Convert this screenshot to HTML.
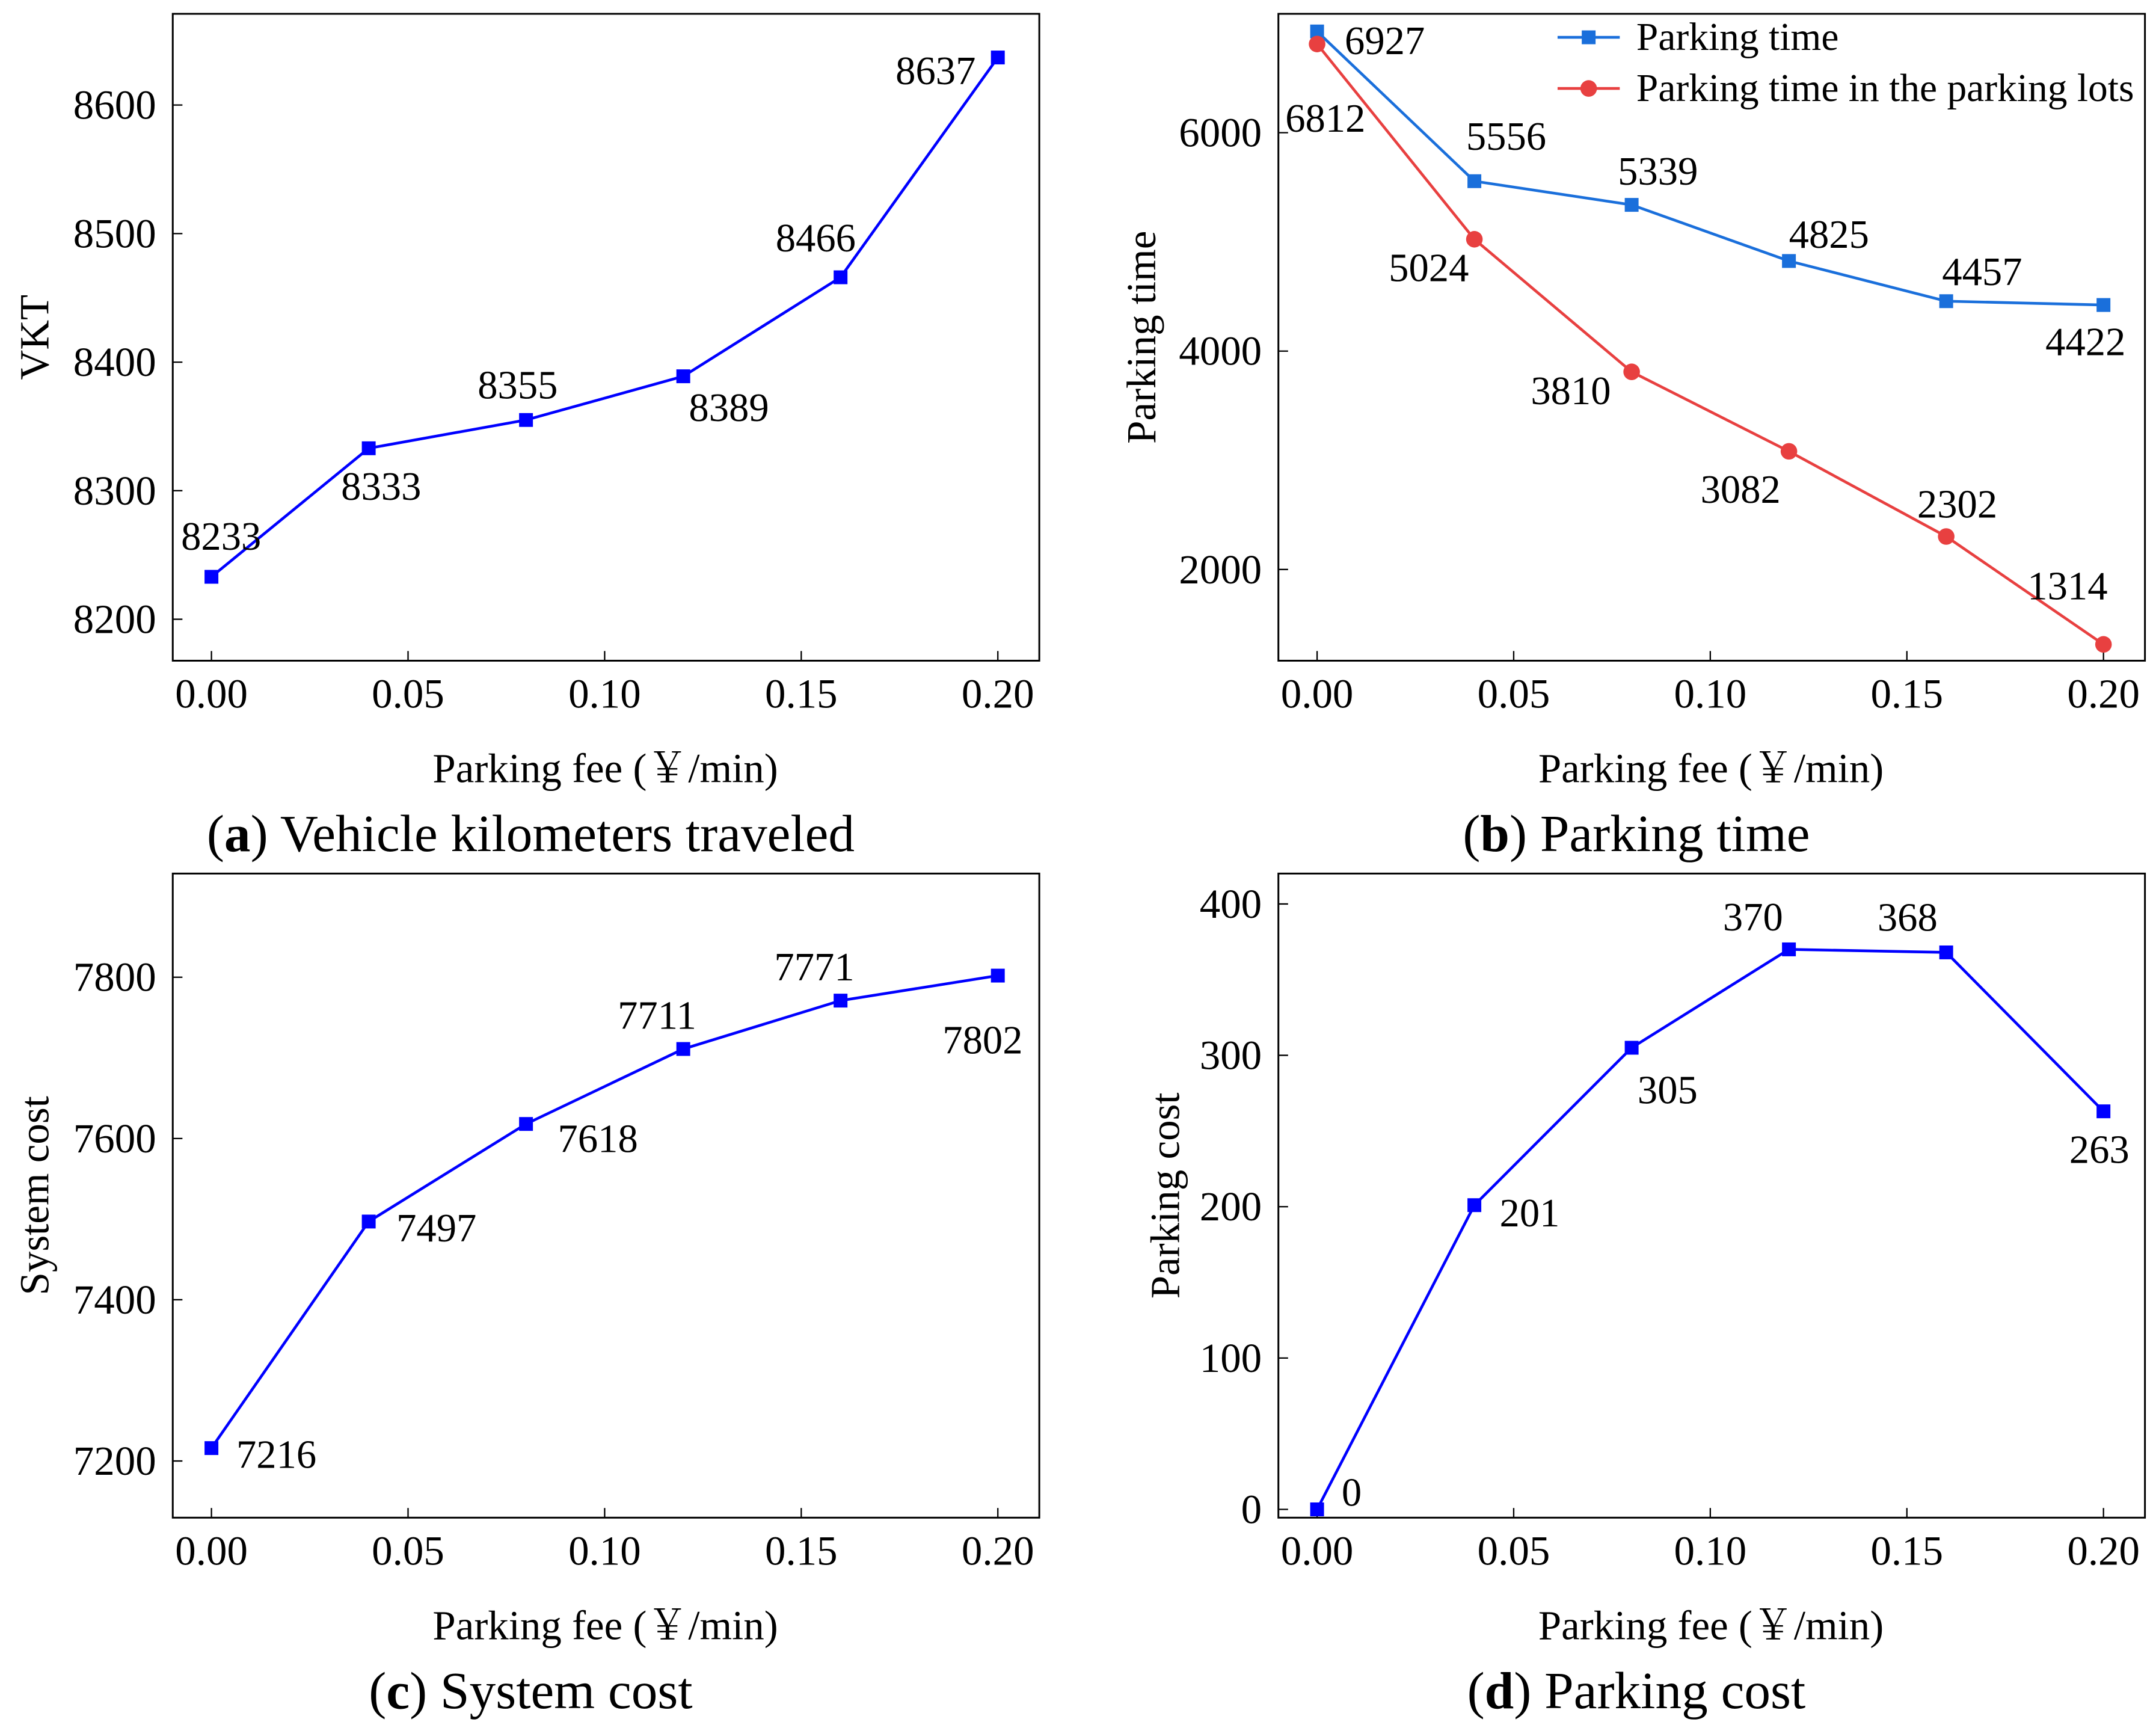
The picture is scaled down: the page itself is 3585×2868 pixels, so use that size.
<!DOCTYPE html>
<html><head><meta charset="utf-8">
<style>
html,body{margin:0;padding:0;background:#fff;}
svg{display:block;}
text{font-family:"Liberation Serif","Noto Serif CJK SC",serif;fill:#000;}
</style></head>
<body>
<svg id="fig" width="3585" height="2868" viewBox="0 0 1560 1248" xmlns="http://www.w3.org/2000/svg"></svg>
<script>
const xCategories = [0, 0.04, 0.08, 0.12, 0.16, 0.20];
const xTickLabels = ["0.00","0.05","0.10","0.15","0.20"];
const xTickValues = [0, 0.05, 0.10, 0.15, 0.20];
const vktValues = [8233, 8333, 8355, 8389, 8466, 8637];
const parkingTimeValues = [6927, 5556, 5339, 4825, 4457, 4422];
const parkingLotTimeValues = [6812, 5024, 3810, 3082, 2302, 1314];
const systemCostValues = [7216, 7497, 7618, 7711, 7771, 7802];
const parkingCostValues = [0, 201, 305, 370, 368, 263];
const vktTicks = [8200, 8300, 8400, 8500, 8600];
const parkingTimeTicks = [2000, 4000, 6000];
const systemCostTicks = [7200, 7400, 7600, 7800];
const parkingCostTicks = [0, 100, 200, 300, 400];

const svg = document.getElementById('fig');
const NS = 'http://www.w3.org/2000/svg';
function mk(tag, attrs, parent){
  const e = document.createElementNS(NS, tag);
  for (const k in attrs) e.setAttribute(k, attrs[k]);
  (parent||svg).appendChild(e);
  return e;
}
function txt(s, x, y, size, anchor, parent, name){
  const t = mk('text', {x:x, y:y, 'font-size':size, 'text-anchor':anchor||'middle', 'dominant-baseline':'central'}, parent);
  
  
  t.textContent = s;
  return t;
}

function panel(cfg){
  const g = mk('g', {});
  
  
  const L = cfg.left, R = L + 627, T = cfg.top, B = cfg.bottom;
  const x0 = L + 28, x1 = L + 597;
  const xs = v => x0 + (v - 0) / 0.2 * (x1 - x0);
  const ys = v => cfg.y0px + (v - cfg.y0) / (cfg.y1 - cfg.y0) * (cfg.y1px - cfg.y0px);
  const box = mk('rect', {x:L, y:T, width:R-L, height:B-T, fill:'none', stroke:'#000', 'stroke-width':1.3}, g);
  
  
  xTickValues.forEach((v, i) => {
    const tk = mk('line', {x1:xs(v), x2:xs(v), y1:B, y2:B-7, stroke:'#000', 'stroke-width':1}, g);
    
    
    txt(xTickLabels[i], xs(v), B + 24, 30, 'middle', g, 'x-tick-label');
  });
  cfg.yticks.forEach(v => {
    const tk = mk('line', {x1:L, x2:L+7, y1:ys(v), y2:ys(v), stroke:'#000', 'stroke-width':1}, g);
    
    
    txt(String(v), L - 12, ys(v), 30, 'end', g, 'y-tick-label');
  });
  txt('Parking fee (￥/min)', L + 313, B + 78, 30, 'middle', g, 'x-axis-title');
  const yt = txt(cfg.ylabel, 0, 0, 30, 'middle', g, 'y-axis-title');
  yt.setAttribute('transform', `translate(${cfg.ylabelX},${(T+B)/2}) rotate(-90)`);
  const cap = mk('text', {x:L + 259, y:B + 125, 'font-size':38, 'text-anchor':'middle', 'dominant-baseline':'central'}, g);
  
  
  cap.innerHTML = `(<tspan font-weight="bold">${cfg.letter}</tspan>) ${cfg.caption}`;
  cfg.series.forEach(s => {
    const pts = xCategories.map((c, i) => xs(c) + ',' + ys(s.values[i])).join(' ');
    const pl = mk('polyline', {points:pts, fill:'none', stroke:s.color, 'stroke-width':2}, g);
    
    
    xCategories.forEach((c, i) => {
      let m;
      if (s.marker === 'circle') m = mk('circle', {cx:xs(c), cy:ys(s.values[i]), r:6, fill:s.color}, g);
      else m = mk('rect', {x:xs(c)-5, y:ys(s.values[i])-5, width:10, height:10, fill:s.color}, g);
      
      
      txt(String(s.values[i]), xs(c) + s.off[i][0], ys(s.values[i]) + s.off[i][1], 29, 'middle', g, 'data-label');
    });
  });
  return {g, xs, ys};
}

panel({name:'panel-a-vkt', left:125, top:10, bottom:478, y0:8200, y1:8600, y0px:448, y1px:76,
  yticks:vktTicks, ylabel:'VKT', ylabelX:25, letter:'a', caption:'Vehicle kilometers traveled',
  series:[{name:'vkt', color:'#0000ff', marker:'square', values:vktValues,
    off:[[7,-29],[9,28],[-6,-25],[33,23],[-18,-28],[-45,10]]}]});

panel({name:'panel-b-parking-time', left:925, top:10, bottom:478, y0:2000, y1:6000, y0px:412, y1px:96,
  yticks:parkingTimeTicks, ylabel:'Parking time', ylabelX:826, letter:'b', caption:'Parking time',
  series:[
    {name:'parking-time', color:'#1a6fdb', marker:'square', values:parkingTimeValues,
      off:[[49,7],[23,-32],[19,-24],[29,-19],[26,-21],[-13,27]]},
    {name:'parking-lot-time', color:'#e84040', marker:'circle', values:parkingLotTimeValues,
      off:[[6,54],[-33,21],[-44,14],[-35,28],[8,-23],[-26,-42]]}
  ]});

const lg = mk('g', {});


[['Parking time','#1a6fdb','square',27],['Parking time in the parking lots','#e84040','circle',64]].forEach(([label,color,mk2,y]) => {
  const ln = mk('line', {x1:1127, x2:1172, y1:y, y2:y, stroke:color, 'stroke-width':2}, lg);
  
  
  let m;
  if (mk2 === 'circle') m = mk('circle', {cx:1149.5, cy:y, r:6, fill:color}, lg);
  else m = mk('rect', {x:1144.5, y:y-5, width:10, height:10, fill:color}, lg);
  
  
  txt(label, 1184, y, 28.5, 'start', lg, 'legend-entry');
});

panel({name:'panel-c-system-cost', left:125, top:632, bottom:1098, y0:7200, y1:7800, y0px:1057, y1px:707,
  yticks:systemCostTicks, ylabel:'System cost', ylabelX:25, letter:'c', caption:'System cost',
  series:[{name:'system-cost', color:'#0000ff', marker:'square', values:systemCostValues,
    off:[[47,5],[49,5],[52,11],[-19,-24],[-19,-24],[-11,47]]}]});

panel({name:'panel-d-parking-cost', left:925, top:632, bottom:1098, y0:0, y1:400, y0px:1092, y1px:654,
  yticks:parkingCostTicks, ylabel:'Parking cost', ylabelX:843, letter:'d', caption:'Parking cost',
  series:[{name:'parking-cost', color:'#0000ff', marker:'square', values:parkingCostValues,
    off:[[25,-12],[40,6],[26,31],[-26,-23],[-28,-25],[-3,28]]}]});
</script>
</body></html>
